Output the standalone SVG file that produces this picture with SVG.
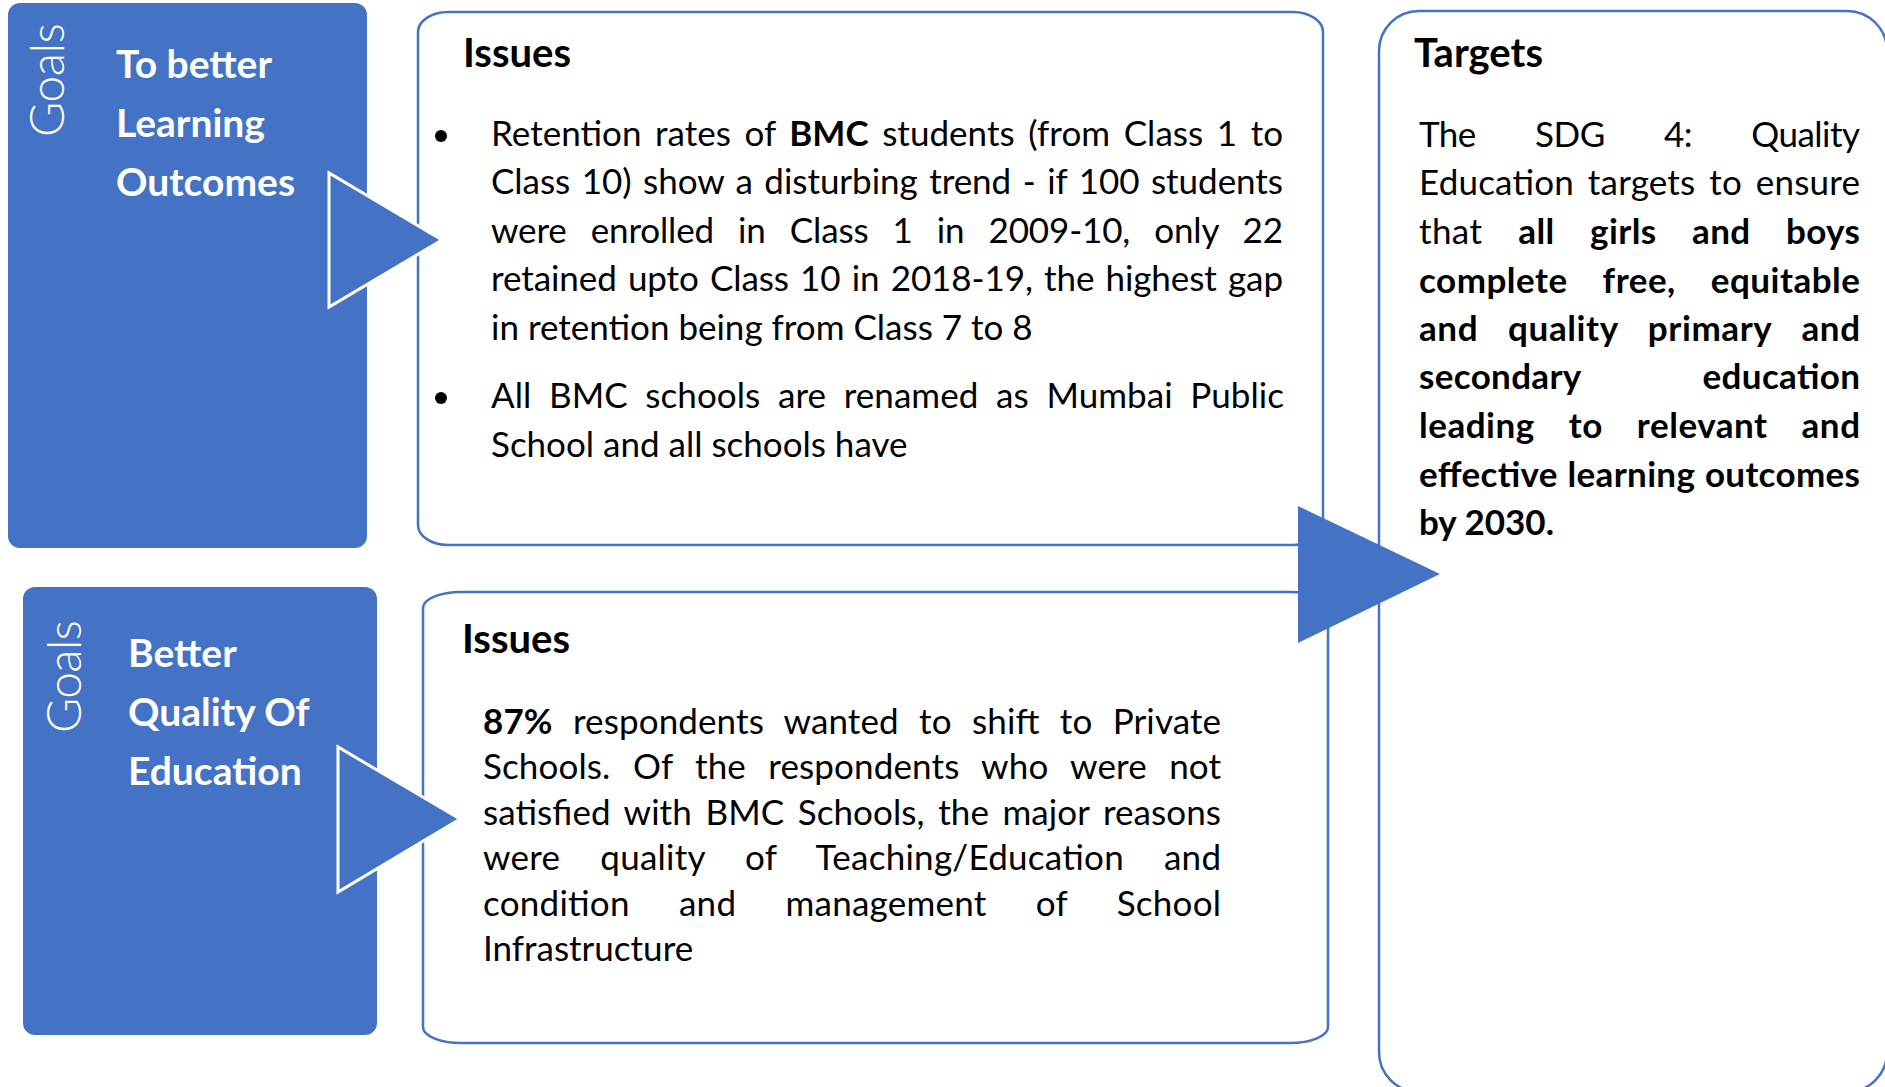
<svg xmlns="http://www.w3.org/2000/svg" width="1885" height="1087" viewBox="0 0 1885 1087">
  <style>
    text { font-family: Lato, "Open Sans", "Liberation Sans", sans-serif; }
    .goal { fill: #4472C4; }
    .panel { fill: #ffffff; stroke: #4472C4; stroke-width: 2.5; }
    .arrow { fill: #4472C4; stroke: #ffffff; stroke-width: 3; stroke-linejoin: miter; }
    .arrow-big { fill: #4472C4; }
    .tag { font-weight: 300; font-size: 48px; fill: #ffffff; }
    .title { font-weight: 700; font-size: 39px; fill: #ffffff; }
    .head { font-weight: 700; font-size: 40px; fill: #000000; }
    .body { font-weight: 400; font-size: 35px; fill: #000000; }
    .b { font-weight: 700; }
  </style>

  <rect width="1885" height="1087" fill="#ffffff"/>

  <!-- Goal 1 -->
  <g id="goal-learning">
    <rect class="goal" x="8" y="3" width="359" height="545" rx="12" ry="12"/>
    <text class="tag" transform="translate(64,137) rotate(-90)" textLength="114">Goals</text>
    <text class="title" x="116" y="78">To better</text>
    <text class="title" x="116" y="137">Learning</text>
    <text class="title" x="116" y="196">Outcomes</text>
  </g>

  <!-- Goal 2 -->
  <g id="goal-quality">
    <rect class="goal" x="23" y="587" width="354" height="448" rx="12" ry="12"/>
    <text class="tag" transform="translate(81,733) rotate(-90)" textLength="113">Goals</text>
    <text class="title" x="128" y="667">Better</text>
    <text class="title" x="128" y="726">Quality Of</text>
    <text class="title" x="128" y="785">Education</text>
  </g>

  <!-- Issues 1: justified lines use word-spacing, textLength trims the rest -->
  <g id="issues-retention">
    <path class="panel" d="M448,12 H1293 A30,20 0 0 1 1323,32 V525 A30,20 0 0 1 1293,545 H448 A30,20 0 0 1 418,525 V32 A30,20 0 0 1 448,12 Z"/>
    <text class="head" x="463" y="67">Issues</text>
    <circle cx="441" cy="136" r="6"/>
    <circle cx="441" cy="398" r="6"/>
    <text class="body" x="491" y="146" word-spacing="4.6" textLength="792" lengthAdjust="spacing">Retention rates of <tspan class="b">BMC</tspan> students (from Class 1 to</text>
    <text class="body" x="491" y="194" word-spacing="2.6" textLength="792" lengthAdjust="spacing">Class 10) show a disturbing trend - if 100 students</text>
    <text class="body" x="491" y="243" word-spacing="15.3" textLength="792" lengthAdjust="spacing">were enrolled in Class 1 in 2009-10, only 22</text>
    <text class="body" x="491" y="291" word-spacing="2.3" textLength="792" lengthAdjust="spacing">retained upto Class 10 in 2018-19, the highest gap</text>
    <text class="body" x="491" y="340">in retention being from Class 7 to 8</text>
    <text class="body" x="491" y="408" word-spacing="8.6" textLength="793" lengthAdjust="spacing">All BMC schools are renamed as Mumbai Public</text>
    <text class="body" x="491" y="457">School and all schools have</text>
  </g>

  <!-- Issues 2 -->
  <g id="issues-quality">
    <path class="panel" d="M461,592 H1290 A38,16 0 0 1 1328,608 V1027 A38,16 0 0 1 1290,1043 H461 A38,16 0 0 1 423,1027 V608 A38,16 0 0 1 461,592 Z"/>
    <text class="head" x="462" y="653">Issues</text>
    <text class="body" x="483" y="734" word-spacing="11.3" textLength="738" lengthAdjust="spacing"><tspan class="b">87%</tspan> respondents wanted to shift to Private</text>
    <text class="body" x="483" y="779" word-spacing="13.3" textLength="738" lengthAdjust="spacing">Schools. Of the respondents who were not</text>
    <text class="body" x="483" y="825" word-spacing="4.5" textLength="738" lengthAdjust="spacing">satisfied with BMC Schools, the major reasons</text>
    <text class="body" x="483" y="870" word-spacing="30.8" textLength="738" lengthAdjust="spacing">were quality of Teaching/Education and</text>
    <text class="body" x="483" y="916" word-spacing="40" textLength="738" lengthAdjust="spacing">condition and management of School</text>
    <text class="body" x="483" y="961">Infrastructure</text>
  </g>

  <!-- Targets -->
  <g id="targets">
    <rect class="panel" x="1379" y="11" width="508" height="1081" rx="40" ry="40"/>
    <text class="head" x="1414" y="67">Targets</text>
    <text class="body" x="1419" y="147" word-spacing="50.8" textLength="441" lengthAdjust="spacing">The SDG 4: Quality</text>
    <text class="body" x="1419" y="195" word-spacing="4.7" textLength="441" lengthAdjust="spacing">Education targets to ensure</text>
    <text class="body" x="1419" y="244" word-spacing="26.6" textLength="441" lengthAdjust="spacing">that <tspan class="b">all girls and boys</tspan></text>
    <text class="body b" x="1419" y="293" word-spacing="26" textLength="441" lengthAdjust="spacing">complete free, equitable</text>
    <text class="body b" x="1419" y="341" word-spacing="20.7" textLength="441" lengthAdjust="spacing">and quality primary and</text>
    <text class="body b" x="1419" y="389" word-spacing="113" textLength="441" lengthAdjust="spacing">secondary education</text>
    <text class="body b" x="1419" y="438" word-spacing="25" textLength="441" lengthAdjust="spacing">leading to relevant and</text>
    <text class="body b" x="1419" y="487" word-spacing="0.8" textLength="441" lengthAdjust="spacing">effective learning outcomes</text>
    <text class="body b" x="1419" y="535">by 2030.</text>
  </g>

  <!-- Arrows linking goals, issues and targets -->
  <g id="connectors">
    <polygon class="arrow" points="329,173 329,307 442,240"/>
    <polygon class="arrow" points="338,747 338,892 460,819"/>
    <polygon class="arrow-big" points="1298,506 1298,643 1440,574"/>
  </g>
</svg>
